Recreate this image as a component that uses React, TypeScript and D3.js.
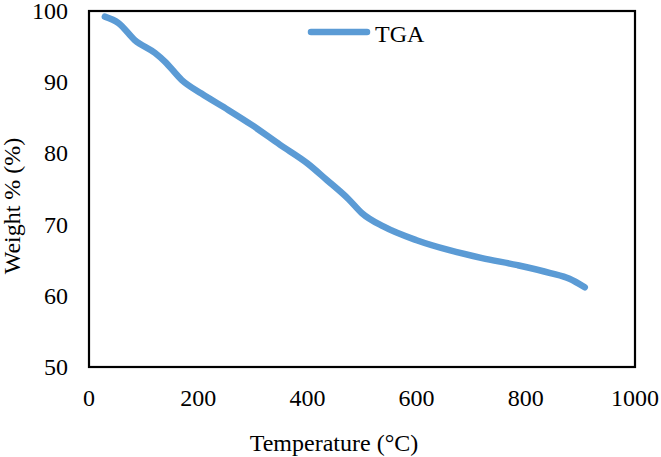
// TGA curve: weight loss vs temperature
import { useRef, useEffect } from 'react'
import * as d3 from 'd3'

const temperatures = [29, 54, 84, 121, 139, 170, 206, 255, 298, 350, 400, 435, 475, 500, 540, 600, 660, 720, 785, 845, 880, 908]
const weights = [99.2, 98.3, 95.9, 94.1, 92.9, 90.3, 88.4, 86.1, 84.0, 81.2, 78.6, 76.3, 73.6, 71.6, 69.7, 67.8, 66.4, 65.3, 64.3, 63.2, 62.4, 61.2]
const xTicks = [0, 200, 400, 600, 800, 1000]
const yTicks = [50, 60, 70, 80, 90, 100]
const seriesName = 'TGA'

export default function App() {
  const svgRef = useRef<SVGSVGElement>(null)

  useEffect(() => {
    const width = 661
    const height = 457
    const margin = { top: 11, right: 26, bottom: 90, left: 89 }
    const font = '"Liberation Serif", "Times New Roman", serif'
    const color = '#5B9BD5'

    const svg = d3.select(svgRef.current)
      .attr('width', width)
      .attr('height', height)
    svg.selectAll('*').remove()

    const x = d3.scaleLinear().domain([0, 1000]).range([margin.left, width - margin.right])
    const y = d3.scaleLinear().domain([50, 100]).range([height - margin.bottom, margin.top])

    const data = temperatures.map((t, i) => ({ t, w: weights[i] }))

    // Marco del área de trazado
    svg.append('rect')
      .attr('x', x(0))
      .attr('y', y(100))
      .attr('width', x(1000) - x(0))
      .attr('height', y(50) - y(100))
      .attr('fill', 'none')
      .attr('stroke', '#000')
      .attr('stroke-width', 2.2)

    // Etiquetas eje X
    svg.selectAll('text.xtick')
      .data(xTicks)
      .join('text')
      .attr('class', 'xtick')
      .attr('x', d => x(d))
      .attr('y', 406)
      .attr('text-anchor', 'middle')
      .attr('font-family', font)
      .attr('font-size', '24px')
      .attr('fill', '#000')
      .text(d => d)

    // Etiquetas eje Y
    svg.selectAll('text.ytick')
      .data(yTicks)
      .join('text')
      .attr('class', 'ytick')
      .attr('x', 68)
      .attr('y', d => y(d) + 8)
      .attr('text-anchor', 'end')
      .attr('font-family', font)
      .attr('font-size', '24px')
      .attr('fill', '#000')
      .text(d => d)

    // Títulos de ejes
    svg.append('text')
      .attr('x', 334)
      .attr('y', 451)
      .attr('text-anchor', 'middle')
      .attr('font-family', font)
      .attr('font-size', '24px')
      .attr('fill', '#000')
      .text('Temperature (°C)')

    svg.append('text')
      .attr('transform', 'translate(20, 206) rotate(-90)')
      .attr('text-anchor', 'middle')
      .attr('font-family', font)
      .attr('font-size', '24px')
      .attr('fill', '#000')
      .text('Weight % (%)')

    // Curva
    const line = d3.line<{ t: number; w: number }>()
      .x(d => x(d.t))
      .y(d => y(d.w))
      .curve(d3.curveMonotoneX)

    svg.append('path')
      .datum(data)
      .attr('d', line)
      .attr('fill', 'none')
      .attr('stroke', color)
      .attr('stroke-width', 6.5)
      .attr('stroke-linecap', 'round')
      .attr('stroke-linejoin', 'round')

    // Leyenda
    svg.append('line')
      .attr('x1', 311).attr('x2', 367)
      .attr('y1', 32).attr('y2', 32)
      .attr('stroke', color)
      .attr('stroke-width', 6.5)
      .attr('stroke-linecap', 'round')

    svg.append('text')
      .attr('x', 375)
      .attr('y', 42)
      .attr('font-family', font)
      .attr('font-size', '24px')
      .attr('fill', '#000')
      .text(seriesName)
  }, [])

  return <svg ref={svgRef} style={{ display: 'block', position: 'absolute', left: 0, top: 0, background: '#fff' }} />
}
